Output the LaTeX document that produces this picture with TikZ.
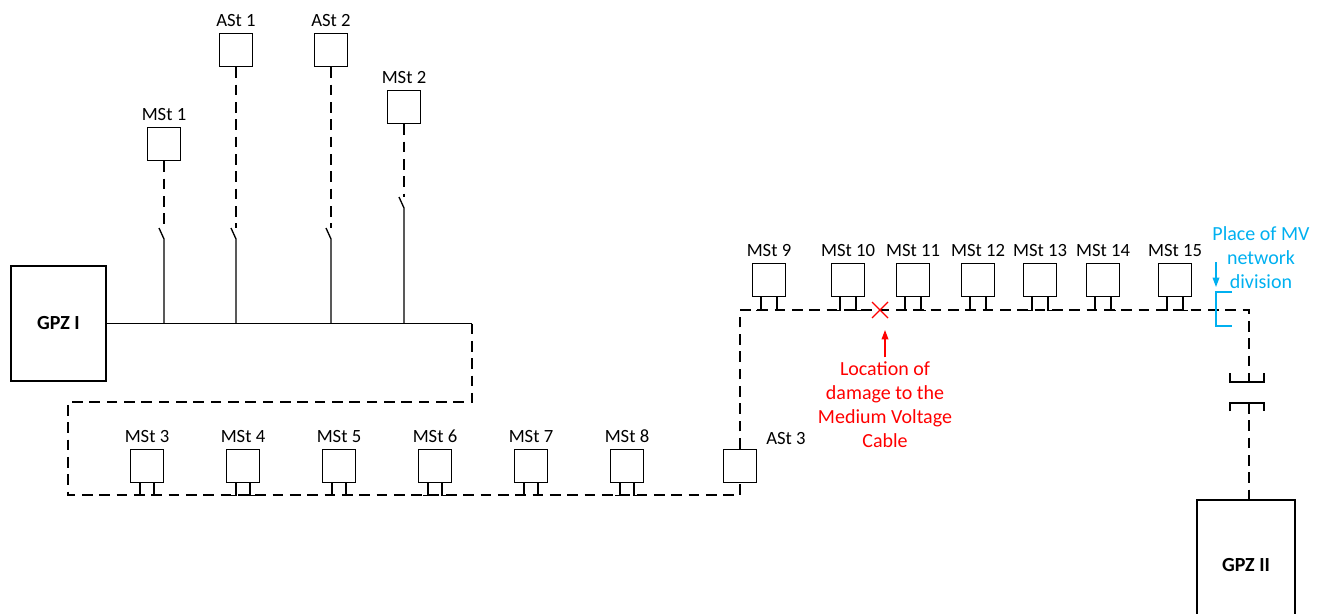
\documentclass[tikz,border=0pt]{standalone}
\usepackage{fontspec}
\setmainfont{Carlito}
\usepackage{xcolor}
\usetikzlibrary{calc,shapes.misc,arrows.meta}

\definecolor{mvblue}{RGB}{0,176,240}

\begin{document}
\begin{tikzpicture}[
  x=0.75pt, y=-0.75pt,
  station/.style={draw, line width=1.1pt, minimum size=25pt, inner sep=0pt},
  gpz/.style={draw, line width=1.5pt, inner sep=0pt, font=\fontsize{15}{18}\selectfont\bfseries},
  cable/.style={line width=1pt, dash pattern=on 8pt off 5pt},
  wire/.style={line width=1pt},
  note/.style={align=center, font=\fontsize{15}{18}\selectfont},
  every label/.style={font=\fontsize{14}{17}\selectfont, inner sep=1pt},
  label distance=3.5pt
  ]
  \useasboundingbox (0,0) rectangle (1322,614);

  % supply points
  \node[gpz, minimum width=71pt, minimum height=86pt] (gpz1) at (58.5,323.5) {GPZ I};
  \node[gpz, minimum width=73.5pt, minimum height=97.5pt] (gpz2) at (1246,565) {GPZ II};

  % feeders with switches
  \coordinate (busend) at (472,323.5);
  \draw[wire] (gpz1.east) -- (busend);
  \foreach \n/\txt/\x/\y/\sy in {m1/MSt 1/164/144/228, a1/ASt 1/236/50/228,
                                 a2/ASt 2/331/50/228, m2/MSt 2/404/107/197} {
    \node[station, label=above:\txt] (\n) at (\x,\y) {};
    \draw[cable] (\n.south) -- (\x,\sy);
    \draw[wire] (\x-5,\sy) -- (\x,\sy+11) -- (\x,323.5);
  }

  % lower ring
  \node[station, label={[anchor=south west, inner sep=0pt, xshift=4pt]north east:ASt 3}] (a3) at (740,466) {};
  \foreach \n/\x in {3/147, 4/243, 5/339, 6/435, 7/531, 8/627} {
    \node[station, label=above:MSt \n] (m\n) at (\x,466) {};
    \draw[wire] ($(m\n.south)+(-7,0)$) -- ++(0,12) -- ++(-5,0);
    \draw[wire] ($(m\n.south)+(7,0)$) -- ++(0,12) -- ++(5,0);
  }
  \draw[cable] (busend) -- (472,402) -- (68,402) -- (68,495) -- (a3.south |- 68,495) -- (a3.south);

  % upper ring
  \foreach \n/\x in {9/769, 10/848, 11/913, 12/978, 13/1040, 14/1103, 15/1175} {
    \node[station, label=above:MSt \n] (m\n) at (\x,280) {};
    \draw[wire] ($(m\n.south)+(-8,0)$) -- ++(0,13) -- ++(-5,0);
    \draw[wire] ($(m\n.south)+(8,0)$) -- ++(0,13) -- ++(5,0);
  }
  \coordinate (brk1) at (1249,382);
  \coordinate (brk2) at (1249,403);
  \draw[cable] (a3.north) -- (a3.north |- 0,310) -- (1249,310) -- (brk1);
  \draw[cable] (brk2) -- (brk2 |- gpz2.north);
  \draw[wire] ($(brk1)+(-19,-9)$) -- ++(0,9) -- ++(34,0) -- ++(0,-9);
  \draw[wire] ($(brk2)+(-19,8)$) -- ++(0,-8) -- ++(34,0) -- ++(0,8);

  % damage
  \node[draw=red, cross out, line width=1pt, minimum size=11pt, inner sep=0pt] (dmg) at (880,310) {};
  \node[note, text=red] (dmgtxt) at (885,405) {Location of\\damage to the\\Medium Voltage\\Cable};
  \coordinate (dmgtip) at (885,330);
  \draw[red, line width=1pt, -{Triangle[length=7pt, width=5pt]}] (dmgtxt.north) -- (dmgtip);

  % division
  \node[note, text=mvblue] (divtxt) at (1261,258) {Place of MV\\network\\division};
  \coordinate (divtop) at (1216,262);
  \coordinate (divtip) at (1216,287);
  \draw[mvblue, line width=1pt, -{Triangle[length=7pt, width=5pt]}] (divtop) -- (divtip);
  \draw[mvblue, line width=1.4pt] (1232,292) -- (1216,292) -- (1216,326) -- (1232,326);
\end{tikzpicture}
\end{document}
